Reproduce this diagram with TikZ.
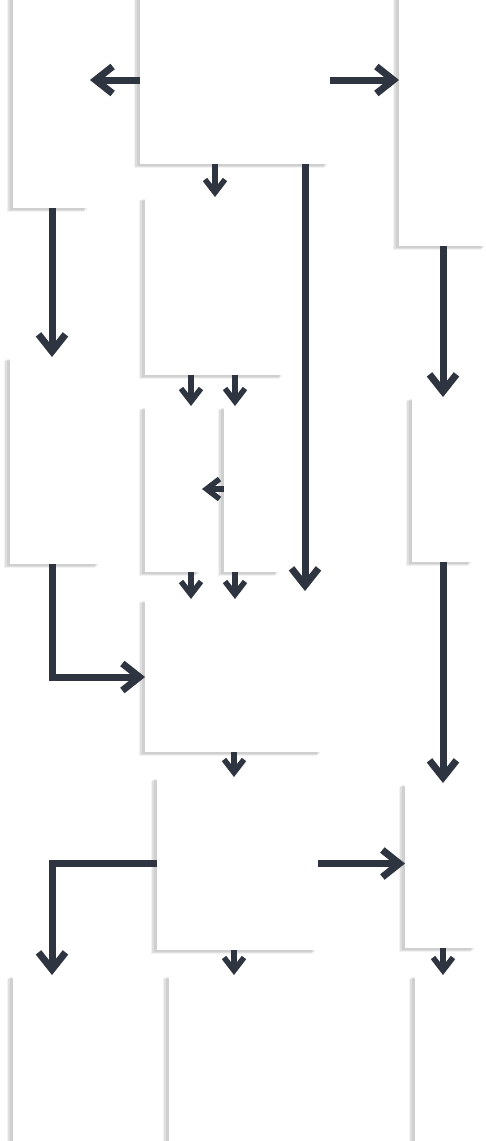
\documentclass[tikz,border=0pt]{standalone}
\usetikzlibrary{arrows.meta,shadows}
\definecolor{arrowc}{RGB}{46,52,64}
\tikzset{
  box/.style={fill=white, draw=none, inner sep=0pt, outer sep=0pt,
    drop shadow={shadow xshift=-6.5pt, shadow yshift=-4pt, fill=black, opacity=0.05, rounded corners=4pt},
    drop shadow={shadow xshift=-5pt, shadow yshift=-2.5pt, fill=black, opacity=0.08, rounded corners=3pt},
    drop shadow={shadow xshift=-3pt, shadow yshift=-1.5pt, fill=black, opacity=0.07, rounded corners=2pt}},
  big/.style={draw=arrowc, line width=7pt, -{Straight Barb[length=17pt,width=27pt]}},
  small/.style={draw=arrowc, line width=5.5pt, -{Straight Barb[length=13pt,width=20pt]}},
}
\begin{document}
\begin{tikzpicture}[x=1pt,y=-1pt]
\clip (0,0) rectangle (486,1141);
\fill[white] (0,0) rectangle (486,1141);
\coordinate (colA) at (52,0);
\coordinate (colL) at (191,0);
\coordinate (colM) at (235,0);
\coordinate (colX) at (305,0);
\coordinate (colR) at (443,0);
\node[box, minimum width=77pt, minimum height=218pt] (A) at (51.5,99) {};
\node[box, minimum width=190pt, minimum height=168pt] (B) at (235,80) {};
\node[box, minimum width=88pt, minimum height=256pt] (C) at (443,118) {};
\node[box, minimum width=140pt, minimum height=178pt] (D) at (215,286) {};
\node[box, minimum width=91pt, minimum height=207pt] (E) at (55.5,460.5) {};
\node[box, minimum width=57pt, minimum height=166pt] (F) at (173.5,489) {};
\node[box, minimum width=57pt, minimum height=166pt] (G) at (252.5,489) {};
\node[box, minimum width=62pt, minimum height=165pt] (H) at (443,479.5) {};
\node[box, minimum width=178pt, minimum height=153pt] (I) at (234,675.5) {};
\node[box, minimum width=161pt, minimum height=173pt] (J) at (237.5,863.5) {};
\node[box, minimum width=72pt, minimum height=165pt] (K) at (441,865.5) {};
\node[box, minimum width=88pt, minimum height=175pt] (L) at (57,1062.5) {};
\node[box, minimum width=138pt, minimum height=175pt] (M) at (238,1062.5) {};
\node[box, minimum width=62pt, minimum height=175pt] (N) at (446,1062.5) {};
% connectors
\draw[big] (B.west) -- (B.west -| A.east);
\draw[big] (B.east) -- (B.east -| C.west);
\draw[small] (D.north |- B.south) -- (D.north);
\draw[big] (colX |- B.south) -- ([yshift=8pt]colX |- I.north);
\draw[big] (colA |- A.south) -- (colA |- E.north);
\draw[big] (colR |- C.south) -- (colR |- H.north);
\draw[small] (colL |- D.south) -- (colL |- F.north);
\draw[small] (colM |- D.south) -- (colM |- G.north);
\draw[small] (G.west) -- (G.west -| F.east);
\draw[small] (colL |- F.south) -- (colL |- I.north);
\draw[small] (colM |- G.south) -- (colM |- I.north);
\draw[big] (colA |- E.south) -- ([yshift=-1.5pt]colA |- I.west) -- ([yshift=-1.5pt]I.west);
\draw[big] (colR |- H.south) -- (colR |- K.north);
\draw[small] (I.south) -- (I.south |- J.north);
\draw[big] (J.west) -- (J.west -| colA) -- (colA |- L.north);
\draw[big] (J.east) -- (J.east -| K.west);
\draw[small] (I.south |- J.south) -- (I.south |- M.north);
\draw[small] (colR |- K.south) -- (colR |- N.north);
\end{tikzpicture}
\end{document}
